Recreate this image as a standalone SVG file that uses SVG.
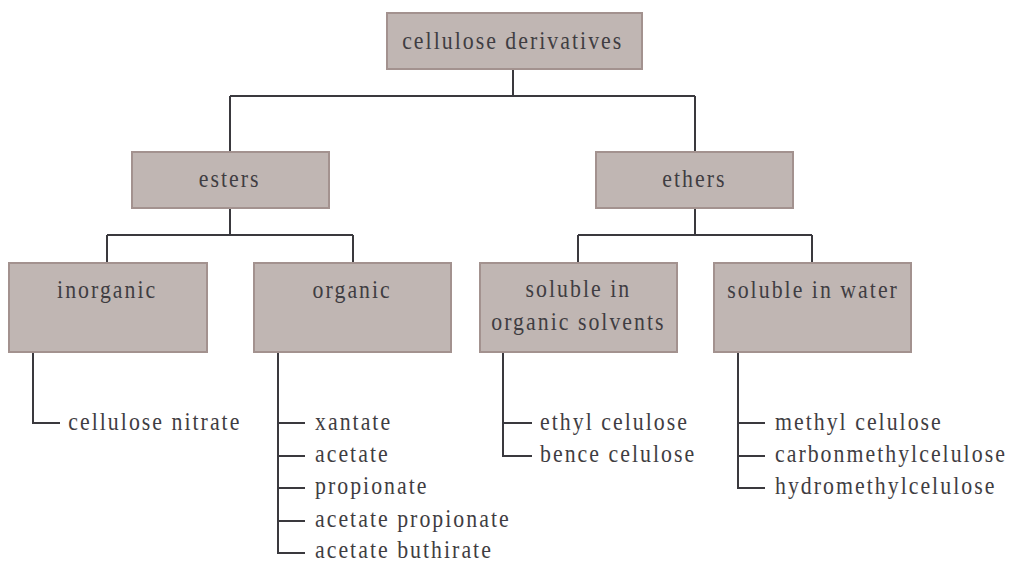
<svg xmlns="http://www.w3.org/2000/svg" width="1009" height="563" viewBox="0 0 1009 563">
<style>
.box{fill:#c0b6b3;stroke:#a3928f;stroke-width:2}
.t{font-family:"Liberation Serif","Times New Roman",serif;font-size:26px;letter-spacing:2.4px;fill:#3f3d42}
.c{text-anchor:middle}
.ln{fill:none;stroke:#3a393e;stroke-width:2}
</style>
<rect width="1009" height="563" fill="#ffffff"/>
<g id="connectors" class="ln">
<path d="M513 69V96M230 96H695M230 96V152M695 96V152"/>
<path d="M230 208V235M107 235H353M107 235V263M353 235V263"/>
<path d="M695 207V235M578 235H812M578 235V263M812 235V263"/>
<path d="M33 352V423H60"/>
<path d="M278 352V553H305M278 423H305M278 456H305M278 488H305M278 521H305"/>
<path d="M503 352V456H532M503 423H532"/>
<path d="M738 352V488H765M738 423H765M738 456H765"/>
</g>
<g id="n-root"><rect class="box" x="387" y="13" width="255" height="56"/><text class="t c" transform="scale(0.84,1)" x="610.4" y="49">cellulose derivatives</text></g>
<g id="n-esters"><rect class="box" x="132" y="152" width="197" height="56"/><text class="t c" transform="scale(0.84,1)" x="273.4" y="187">esters</text></g>
<g id="n-ethers"><rect class="box" x="596" y="152" width="197" height="56"/><text class="t c" transform="scale(0.84,1)" x="826.6" y="187">ethers</text></g>
<g id="n-inorganic"><rect class="box" x="9" y="263" width="198" height="89"/><text class="t c" transform="scale(0.84,1)" x="127.6" y="298">inorganic</text></g>
<g id="n-organic"><rect class="box" x="254" y="263" width="197" height="89"/><text class="t c" transform="scale(0.84,1)" x="419.3" y="298">organic</text></g>
<g id="n-solorg"><rect class="box" x="480" y="263" width="197" height="89"/><text class="t c" transform="scale(0.84,1)" x="688.6" y="297">soluble in</text><text class="t c" transform="scale(0.84,1)" x="688.6" y="330">organic solvents</text></g>
<g id="n-solwater"><rect class="box" x="714" y="263" width="197" height="89"/><text class="t c" transform="scale(0.84,1)" x="967.9" y="298">soluble in water</text></g>
<g id="leaves-inorganic"><text class="t" transform="scale(0.84,1)" x="81.3" y="430">cellulose nitrate</text></g>
<g id="leaves-organic">
<text class="t" transform="scale(0.84,1)" x="375" y="430">xantate</text>
<text class="t" transform="scale(0.84,1)" x="375" y="462">acetate</text>
<text class="t" transform="scale(0.84,1)" x="375" y="494">propionate</text>
<text class="t" transform="scale(0.84,1)" x="375" y="527">acetate propionate</text>
<text class="t" transform="scale(0.84,1)" x="375" y="558">acetate buthirate</text>
</g>
<g id="leaves-solorg">
<text class="t" transform="scale(0.84,1)" x="642.9" y="430">ethyl celulose</text>
<text class="t" transform="scale(0.84,1)" x="642.9" y="462">bence celulose</text>
</g>
<g id="leaves-solwater">
<text class="t" transform="scale(0.84,1)" x="922.6" y="430">methyl celulose</text>
<text class="t" transform="scale(0.84,1)" x="922.6" y="462">carbonmethylcelulose</text>
<text class="t" transform="scale(0.84,1)" x="922.6" y="494">hydromethylcelulose</text>
</g>
</svg>
